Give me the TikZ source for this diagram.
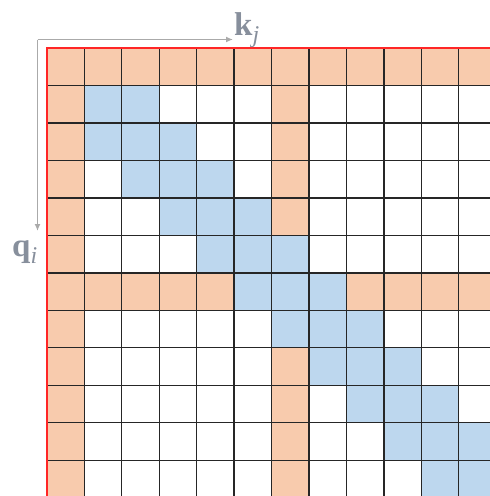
\documentclass[tikz,border=0pt]{standalone}
\usepackage{fontspec}
\newfontfamily\labfont{Liberation Serif}
\usetikzlibrary{arrows.meta}
\definecolor{orf}{RGB}{248,203,173}
\definecolor{bluf}{RGB}{189,215,238}
\definecolor{arrg}{RGB}{170,170,170}
\definecolor{labc}{RGB}{135,143,156}
\tikzset{
  gridline/.style={draw=black!85, line width=1.3pt},
  redline/.style={draw=red!85, line width=1.6pt},
  axisarrow/.style={draw=arrg, line width=1.4pt, -{Latex[length=7pt,width=6pt]}},
  axislabel/.style={text=labc, inner sep=0pt, anchor=base west, font=\labfont\fontsize{33}{38}\selectfont}
}
\newcommand{\mysub}[1]{\raisebox{-7pt}{\fontsize{24}{24}\selectfont\itshape #1}}
\begin{document}
\begin{tikzpicture}[x=1pt,y=-1pt]
\useasboundingbox (0,0) rectangle (490,496);
\def\cs{37.45}
\def\xo{46.8}
\def\yo{48.2}
% cells
\foreach \i in {0,...,11}{
  \foreach \j in {0,...,11}{
    \pgfmathtruncatemacro\d{abs(\i-\j)}
    \def\cc{white}
    \ifnum\i=6 \def\cc{orf}\fi
    \ifnum\j=6 \def\cc{orf}\fi
    \ifnum\d<2 \def\cc{bluf}\fi
    \ifnum\i=0 \def\cc{orf}\fi
    \ifnum\j=0 \def\cc{orf}\fi
    \fill[\cc] ({\xo+\j*\cs},{\yo+\i*\cs}) rectangle ++(\cs,\cs);
  }
}
% grid lines
\foreach \k in {1,...,12}{
  \draw[gridline] ({\xo+\k*\cs},\yo) -- ({\xo+\k*\cs},{\yo+12*\cs});
  \draw[gridline] (\xo,{\yo+\k*\cs}) -- ({\xo+12*\cs},{\yo+\k*\cs});
}
% red border
\draw[redline] ({\xo+12*\cs},\yo) -- (\xo,\yo) -- (\xo,{\yo+12*\cs}) -- ({\xo+12*\cs},{\yo+12*\cs});
% axes
\coordinate (o) at (37.5,39.5);
\node[axislabel] (kj) at (234,35) {\textbf{k}\mysub{j}};
\node[axislabel] (qi) at (12,256) {\textbf{q}\mysub{i}};
\coordinate (hend) at (233,39.5);
\coordinate (vend) at (37.5,231);
\draw[axisarrow] (o) -- (hend);
\draw[axisarrow] (o) -- (vend);
\end{tikzpicture}
\end{document}
